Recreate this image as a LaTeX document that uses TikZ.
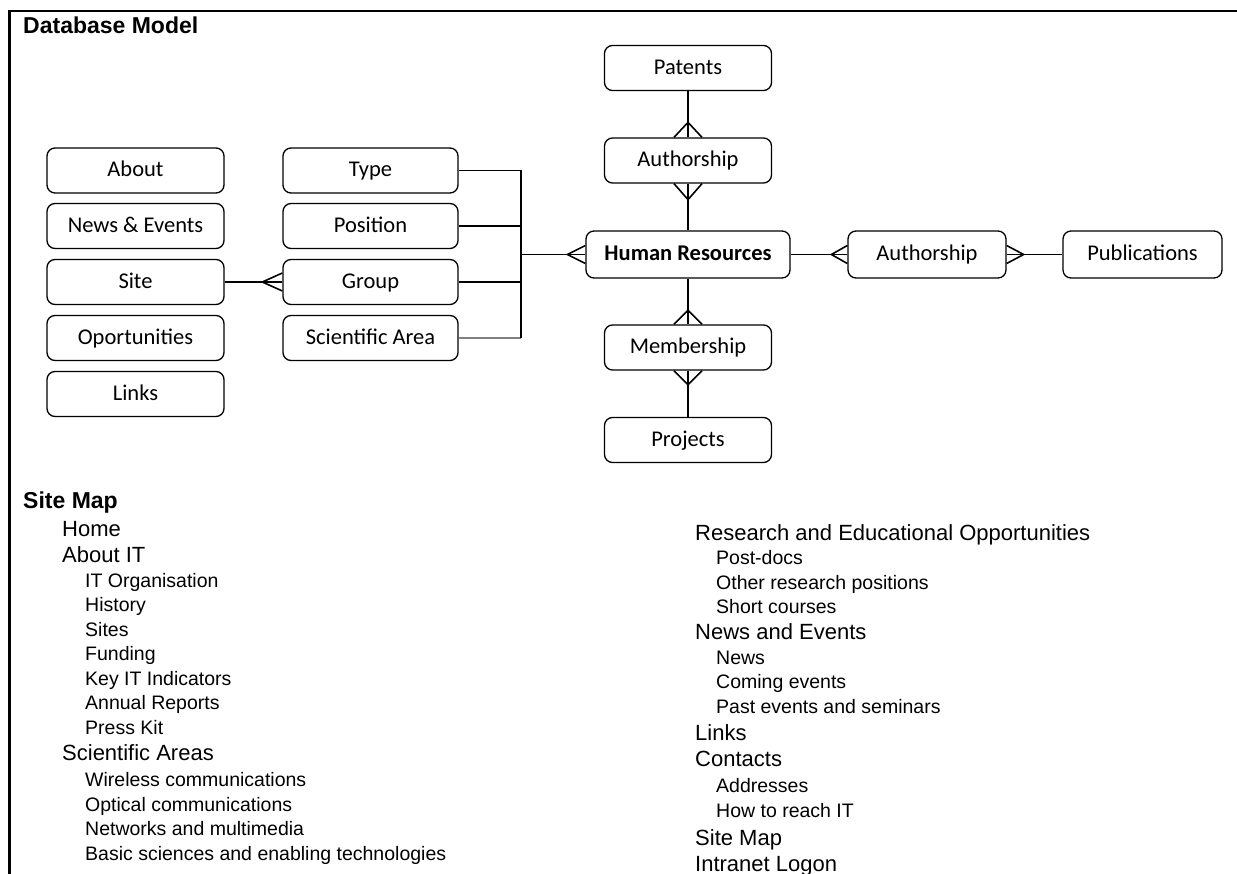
\documentclass[tikz,border=0pt]{standalone}
\usepackage{fontspec}
\setmainfont{Liberation Sans}
\newfontfamily\boxfont{Carlito}
\usetikzlibrary{calc}

% crow's feet: horizontal (on west/east sides) and vertical (on north/south sides)
\newcommand{\footh}[2]{\draw[conn] ($(#1)+(0,-9)$) -- ($(#1)+(#2,0)$) -- ($(#1)+(0,9)$);}
\newcommand{\footv}[2]{\draw[conn] ($(#1)+(-14,0)$) -- ($(#1)+(0,#2)$) -- ($(#1)+(14,0)$);}

\tikzset{
  entity/.style={draw, line width=1.3pt, rounded corners=8pt, inner sep=0pt,
    minimum height=45pt, text height=17pt, text depth=4.5pt,
    font=\boxfont\fontsize{22.5}{26}\selectfont},
  conn/.style={line width=1.6pt},
  thinconn/.style={line width=1.1pt},
  heading/.style={anchor=base west, inner sep=0pt, font=\bfseries\fontsize{23}{27}\selectfont},
  mainitem/.style={anchor=base west, inner sep=0pt, font=\fontsize{22}{26}\selectfont},
  subitem/.style={anchor=base west, inner sep=0pt, font=\fontsize{19.5}{23}\selectfont},
}

\begin{document}
\begin{tikzpicture}[x=1pt, y=-1pt]
  \useasboundingbox (0,0) rectangle (1237,874);
  \draw[line width=2.4pt] (9.5,874) -- (9.5,11) -- (1237,11);

  \node[heading] (dbtitle) at (23,34) {Database Model};

  % left column
  \node[entity, minimum width=177pt] (about) at (135.5,170.5) {About};
  \node[entity, minimum width=177pt] (news) at (135.5,226) {News \& Events};
  \node[entity, minimum width=177pt] (site) at (135.5,282) {Site};
  \node[entity, minimum width=177pt] (opport) at (135.5,338) {Oportunities};
  \node[entity, minimum width=177pt] (links) at (135.5,394) {Links};

  % second column
  \node[entity, minimum width=175pt] (type) at (370.5,170.5) {Type};
  \node[entity, minimum width=175pt] (position) at (370.5,226) {Position};
  \node[entity, minimum width=175pt] (group) at (370.5,282) {Group};
  \node[entity, minimum width=175pt] (sciarea) at (370.5,338) {Scientific Area};

  % middle column
  \node[entity, minimum width=167pt] (patents) at (688,68) {Patents};
  \node[entity, minimum width=167pt] (authtop) at (688,160.5) {Authorship};
  \node[entity, minimum width=204pt, minimum height=47pt, font=\boxfont\bfseries\fontsize{22.5}{26}\selectfont] (hr) at (688,254.5) {Human Resources};
  \node[entity, minimum width=167pt] (member) at (688,347.5) {Membership};
  \node[entity, minimum width=167pt] (projects) at (688,440) {Projects};

  % right side
  \node[entity, minimum width=158pt, minimum height=47pt] (authright) at (927,254.5) {Authorship};
  \node[entity, minimum width=159pt, minimum height=47pt] (pubs) at (1142.5,254.5) {Publications};

  % bus to human resources
  \coordinate (bus) at (521,254.5);
  \draw[thinconn] (type.east) -- (type.east -| bus);
  \draw[thinconn] (position.east) -- (position.east -| bus);
  \draw[conn] (group.east) -- (group.east -| bus);
  \draw[conn, gray] (sciarea.east) -- (sciarea.east -| bus);
  \draw[conn] (type.east -| bus) -- (sciarea.east -| bus);
  \draw[conn] (bus) -- (hr.west);
  \footh{hr.west}{-18}

  \draw[conn] (site.east) -- (group.west);
  \footh{group.west}{-20}

  \draw[conn] (hr.east) -- (authright.west);
  \footh{authright.west}{-16}
  \draw[conn] (authright.east) -- (pubs.west);
  \footh{authright.east}{17}

  \draw[conn] (patents.south) -- (authtop.north);
  \footv{authtop.north}{-15}
  \draw[conn] (authtop.south) -- (hr.north);
  \footv{authtop.south}{16}
  \draw[conn] (hr.south) -- (member.north);
  \footv{member.north}{-14}
  \draw[conn] (member.south) -- (projects.north);
  \footv{member.south}{14}

  % site map
  \node[heading] (maptitle) at (23,508) {Site Map};
  \foreach \y/\txt [count=\i] in {536/Home, 562/About IT, 760/Scientific Areas}
    \node[mainitem] (lm-\i) at (62,\y) {\txt};
  \foreach \y/\txt [count=\i] in {587/IT Organisation, 611/History, 636/Sites,
      660/Funding, 685/Key IT Indicators, 709/Annual Reports, 734/Press Kit,
      786/Wireless communications, 811/Optical communications,
      835/Networks and multimedia, 860/Basic sciences and enabling technologies}
    \node[subitem] (ls-\i) at (85,\y) {\txt};
  \foreach \y/\txt [count=\i] in {540/Research and Educational Opportunities,
      639/News and Events, 740/Links, 766/Contacts, 845/Site Map, 871/Intranet Logon}
    \node[mainitem] (rm-\i) at (695,\y) {\txt};
  \foreach \y/\txt [count=\i] in {564/Post-docs, 589/Other research positions,
      613/Short courses, 664/News, 688/Coming events, 713/Past events and seminars,
      792/Addresses, 817/How to reach IT}
    \node[subitem] (rs-\i) at (716,\y) {\txt};
\end{tikzpicture}
\end{document}
